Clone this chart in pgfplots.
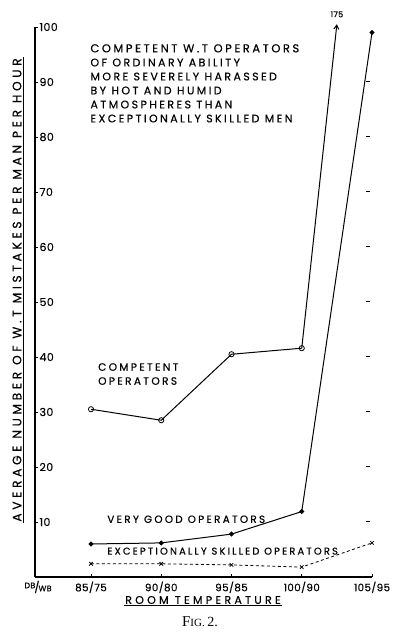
\documentclass[border=0pt]{standalone}
\usepackage{pgfplots}
\pgfplotsset{compat=1.18}
\usepackage{fontspec}
\usetikzlibrary{arrows.meta}
\setmainfont{Poppins}
\newfontfamily\hand[LetterSpace=22, FakeBold=0.4]{Poppins}
\newfontfamily\handw[LetterSpace=30, FakeBold=0.4]{Poppins}
\newfontfamily\handn[LetterSpace=4, FakeBold=0.4]{Poppins}
\newfontfamily\capfont{Liberation Serif}
\begin{document}
\begin{tikzpicture}[x=1pt,y=1pt]
\useasboundingbox (0,0) rectangle (399,640);
\begin{axis}[
 at={(35pt,63pt)}, anchor=south west,
 scale only axis, width=337pt, height=550pt,
 xmin=-0.797, xmax=4, ymin=0, ymax=100,
 axis x line*=bottom, axis y line*=left,
 axis line style={line width=1.2pt, -},
 xtick={0,1,2,3,4}, xticklabels={85/75,90/80,95/85,100/90,105/95},
 ytick={10,20,...,100},
 tick align=inside,
 major tick length=3pt,
 tick style={line width=0.9pt, black},
 yticklabel style={anchor=west, xshift=1pt, font=\handn\fontsize{11}{11}\selectfont},
 xticklabel style={font=\handn\fontsize{10.3}{10}\selectfont, yshift=-1pt},
 /pgf/number format/assume math mode=true,
 clip=false,
]
% right-hand scale dashes
\addplot[only marks, mark=-, mark size=2pt, mark options={line width=1pt}] coordinates {(3.94,10)(3.94,20)(3.94,30)(3.94,40)(3.94,50)(3.94,60)(3.94,70)(3.94,80)(3.94,90)};
% competent operators (off-scale to 175)
\addplot[line width=1pt, -{Straight Barb[length=4pt,width=5pt]}] coordinates {(3,41.6)(3.5,100.5)};
\addplot[line width=1pt, mark=o, mark size=2.6pt, mark options={fill=white, line width=0.8pt}] coordinates {(0,30.5)(1,28.5)(2,40.5)(3,41.6)};
% very good operators
\addplot[line width=1pt, mark=*, mark size=1.9pt] coordinates {(0,6)(1,6.2)(2,7.8)(3,11.9)(4,99)};
% exceptionally skilled operators
\addplot[line width=0.8pt, dash pattern=on 3pt off 2.5pt, mark=x, mark size=2.5pt, mark options={solid}] coordinates {(0,2.4)(1,2.4)(2,2.2)(3,1.8)(4,6.2)};
\node[font=\handn\fontsize{8}{8}\selectfont] at (axis cs:3.5,102.3) {175};
\node[anchor=north west, align=left, inner sep=0pt, font=\hand\fontsize{11}{14}\selectfont] at (axis cs:-0.01,96.9)
 {{\fontsize{11.5}{14}\selectfont COMPETENT W.T OPERATORS}\\OF ORDINARY ABILITY\\MORE SEVERELY HARASSED\\BY HOT AND HUMID\\ATMOSPHERES THAN\\EXCEPTIONALLY SKILLED MEN};
\node[anchor=north west, align=left, inner sep=0pt, font=\hand\fontsize{10.6}{14}\selectfont] at (axis cs:0.1,38.9) {COMPETENT\\OPERATORS};
\node[anchor=west, inner sep=0pt, font=\hand\fontsize{10.4}{10}\selectfont] at (axis cs:0.23,10.5) {VERY GOOD OPERATORS};
\node[anchor=west, inner sep=0pt, font=\hand\fontsize{9.9}{10}\selectfont] at (axis cs:0.23,4.7) {EXCEPTIONALLY SKILLED OPERATORS};
\end{axis}
% y label
\node[rotate=90, inner sep=1.5pt, font=\handw\fontsize{12.2}{10}\selectfont] (yl) at (17,350) {AVERAGE NUMBER OF W.T MISTAKES PER MAN PER HOUR};
\draw[line width=0.9pt] (yl.south west) -- (yl.south east);
% x label
\node[inner sep=1.5pt, font=\handw\fontsize{11}{10}\selectfont] (xl) at (203,40) {ROOM TEMPERATURE};
\draw[line width=0.9pt] (xl.south west) -- (xl.south east);
\node[font=\handn\fontsize{8}{8}\selectfont, inner sep=0pt] at (38,53) {DB\raisebox{-3pt}{\kern-1pt\fontsize{11}{11}\selectfont/\kern-1pt\fontsize{8}{8}\selectfont WB}};
% caption
\node[font=\capfont, anchor=base] at (200,13) {{\fontsize{15}{15}\selectfont F}{\fontsize{11}{11}\selectfont IG.} {\fontsize{14}{14}\selectfont 2.}};
\end{tikzpicture}
\end{document}
